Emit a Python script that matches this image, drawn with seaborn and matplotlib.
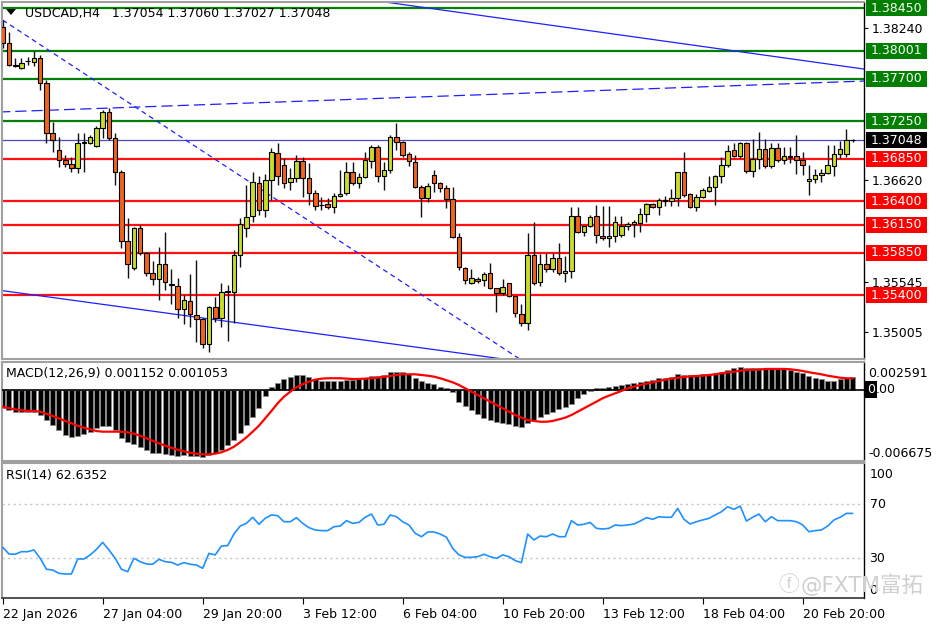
import numpy as np
import seaborn as sns
import matplotlib.pyplot as plt
import matplotlib.transforms as mtransforms
from matplotlib.patches import Rectangle, Polygon

# USDCAD H4 candles (bars 0..136)
opens = [1.38251, 1.38081, 1.37847, 1.37815, 1.37890, 1.37879, 1.37922, 1.37656, 1.37125, 1.36944,
         1.36838, 1.36795, 1.36753, 1.37018, 1.37018, 1.36986, 1.37178, 1.37348, 1.37071, 1.36710,
         1.35977, 1.35690, 1.36115, 1.35849, 1.35637, 1.35573, 1.35733, 1.35520, 1.35499, 1.35254,
         1.35339, 1.35191, 1.35148, 1.34882, 1.35276, 1.35159, 1.35435, 1.35435, 1.35828, 1.36115,
         1.36243, 1.36593, 1.36306, 1.36625, 1.36912, 1.36785, 1.36604, 1.36646, 1.36827, 1.36646,
         1.36487, 1.36360, 1.36370, 1.36338, 1.36455, 1.36487, 1.36710, 1.36593, 1.36657, 1.36827,
         1.36976, 1.36668, 1.36731, 1.37082, 1.37029, 1.36901, 1.36816, 1.36551, 1.36434, 1.36678,
         1.36593, 1.36540, 1.36423, 1.36019, 1.35690, 1.35531, 1.35573, 1.35562, 1.35637, 1.35477,
         1.35424, 1.35531, 1.35392, 1.35201, 1.35106, 1.35828, 1.35541, 1.35733, 1.35679, 1.35796,
         1.35637, 1.35658, 1.36243, 1.36073, 1.36136, 1.36243, 1.36030, 1.36009, 1.36030, 1.36041,
         1.36136, 1.36158, 1.36168, 1.36264, 1.36370, 1.36338, 1.36405, 1.36402, 1.36434, 1.36710,
         1.36476, 1.36338, 1.36444, 1.36508, 1.36551, 1.36668, 1.36785, 1.36944, 1.36880, 1.37018,
         1.36721, 1.36848, 1.36955, 1.36774, 1.36965, 1.36838, 1.36880, 1.36880, 1.36838, 1.36615,
         1.36636, 1.36678, 1.36700, 1.36774, 1.36901, 1.36901, 1.37054]
highs = [1.38325, 1.38198, 1.37922, 1.37922, 1.37932, 1.37996, 1.37954, 1.37688, 1.37242, 1.37082,
         1.36891, 1.36870, 1.37125, 1.37125, 1.37103, 1.37199, 1.37369, 1.37390, 1.37125, 1.36731,
         1.36221, 1.36126, 1.36147, 1.35860, 1.35764, 1.35913, 1.36073, 1.35679, 1.35584, 1.35403,
         1.35626, 1.35775, 1.35159, 1.35286, 1.35382, 1.35531, 1.35509, 1.35881, 1.36221, 1.36572,
         1.36710, 1.36668, 1.36689, 1.36965, 1.37018, 1.36859, 1.36753, 1.36891, 1.36870, 1.36806,
         1.36519, 1.36444, 1.36434, 1.36487, 1.36731, 1.36816, 1.36816, 1.36700, 1.36923, 1.36997,
         1.36997, 1.36816, 1.37103, 1.37231, 1.37035, 1.36923, 1.36891, 1.36572, 1.36593, 1.36731,
         1.36604, 1.36572, 1.36551, 1.36062, 1.35701, 1.35679, 1.35594, 1.35648, 1.35743, 1.35480,
         1.35573, 1.35535, 1.35395, 1.35307, 1.36062, 1.36179, 1.35839, 1.35849, 1.35849, 1.35956,
         1.35818, 1.36338, 1.36338, 1.36140, 1.36253, 1.36360, 1.36349, 1.36349, 1.36243, 1.36243,
         1.36179, 1.36200, 1.36328, 1.36381, 1.36381, 1.36434, 1.36455, 1.36530, 1.36715, 1.36923,
         1.36487, 1.36476, 1.36540, 1.36668, 1.36678, 1.36870, 1.36997, 1.37018, 1.37029, 1.37029,
         1.37061, 1.37135, 1.37061, 1.37018, 1.37018, 1.36976, 1.36976, 1.37103, 1.36923, 1.36785,
         1.36742, 1.36742, 1.36997, 1.36997, 1.37040, 1.37167, 1.37060]
lows = [1.38028, 1.37837, 1.37826, 1.37805, 1.37847, 1.37837, 1.37582, 1.37018, 1.36923, 1.36763,
        1.36763, 1.36710, 1.36700, 1.36710, 1.37008, 1.36976, 1.37071, 1.37050, 1.36572, 1.35903,
        1.35584, 1.35669, 1.35828, 1.35605, 1.35509, 1.35350, 1.35456, 1.35307, 1.35159, 1.35095,
        1.35063, 1.34904, 1.34840, 1.34797, 1.35116, 1.35063, 1.34914, 1.35106, 1.35701, 1.36019,
        1.36179, 1.36253, 1.36232, 1.36413, 1.36572, 1.36540, 1.36519, 1.36604, 1.36444, 1.36360,
        1.36306, 1.36306, 1.36317, 1.36274, 1.36444, 1.36466, 1.36572, 1.36540, 1.36646, 1.36753,
        1.36604, 1.36519, 1.36700, 1.36944, 1.36870, 1.36774, 1.36540, 1.36232, 1.36391, 1.36498,
        1.36498, 1.36328, 1.36009, 1.35669, 1.35520, 1.35520, 1.35531, 1.35499, 1.35467, 1.35222,
        1.35403, 1.35382, 1.35169, 1.35074, 1.35031, 1.35509, 1.35499, 1.35648, 1.35648, 1.35616,
        1.35541, 1.35584, 1.36062, 1.36030, 1.36126, 1.35956, 1.35988, 1.35913, 1.35966, 1.36019,
        1.36094, 1.36019, 1.36073, 1.36179, 1.36328, 1.36253, 1.36349, 1.36349, 1.36349, 1.36444,
        1.36328, 1.36296, 1.36434, 1.36498, 1.36360, 1.36593, 1.36763, 1.36870, 1.36859, 1.36700,
        1.36657, 1.36742, 1.36753, 1.36753, 1.36816, 1.36795, 1.36806, 1.36689, 1.36678, 1.36466,
        1.36593, 1.36604, 1.36689, 1.36668, 1.36859, 1.36870, 1.37027]
closes = [1.38081, 1.37847, 1.37837, 1.37868, 1.37885, 1.37922, 1.37656, 1.37125, 1.37050, 1.36838,
          1.36795, 1.36753, 1.37018, 1.37029, 1.37082, 1.37178, 1.37348, 1.37071, 1.36710, 1.35977,
          1.35733, 1.36115, 1.35849, 1.35637, 1.35573, 1.35733, 1.35541, 1.35509, 1.35254, 1.35350,
          1.35201, 1.35148, 1.34882, 1.35276, 1.35159, 1.35435, 1.35446, 1.35828, 1.36158, 1.36232,
          1.36604, 1.36306, 1.36625, 1.36923, 1.36668, 1.36593, 1.36646, 1.36827, 1.36646, 1.36487,
          1.36349, 1.36355, 1.36338, 1.36455, 1.36476, 1.36710, 1.36593, 1.36657, 1.36838, 1.36976,
          1.36668, 1.36731, 1.37082, 1.37029, 1.36891, 1.36827, 1.36551, 1.36434, 1.36561, 1.36593,
          1.36540, 1.36423, 1.36019, 1.35701, 1.35562, 1.35584, 1.35552, 1.35626, 1.35477, 1.35424,
          1.35488, 1.35392, 1.35212, 1.35106, 1.35828, 1.35531, 1.35733, 1.35679, 1.35796, 1.35637,
          1.35658, 1.36243, 1.36073, 1.36136, 1.36232, 1.36041, 1.36009, 1.36030, 1.36179, 1.36136,
          1.36158, 1.36179, 1.36264, 1.36370, 1.36338, 1.36413, 1.36413, 1.36434, 1.36710, 1.36466,
          1.36338, 1.36444, 1.36519, 1.36551, 1.36668, 1.36785, 1.36933, 1.36880, 1.37018, 1.36721,
          1.36848, 1.36955, 1.36774, 1.36965, 1.36838, 1.36880, 1.36875, 1.36838, 1.36785, 1.36636,
          1.36678, 1.36700, 1.36785, 1.36901, 1.36955, 1.37054, 1.37048]

macd_hist = [-0.00174, -0.00190, -0.00206, -0.00212, -0.00212, -0.00212, -0.00237, -0.00284, -0.00330, -0.00377,
             -0.00424, -0.00440, -0.00433, -0.00417, -0.00399, -0.00361, -0.00340, -0.00340, -0.00377, -0.00449,
             -0.00492, -0.00511, -0.00534, -0.00564, -0.00590, -0.00595, -0.00605, -0.00611, -0.00618, -0.00611,
             -0.00618, -0.00618, -0.00627, -0.00611, -0.00590, -0.00564, -0.00518, -0.00471, -0.00408, -0.00330,
             -0.00253, -0.00174, -0.00056, 0.00022, 0.00060, 0.00100, 0.00122, 0.00138, 0.00138, 0.00122,
             0.00100, 0.00081, 0.00081, 0.00081, 0.00081, 0.00091, 0.00091, 0.00100, 0.00107, 0.00131,
             0.00131, 0.00138, 0.00163, 0.00168, 0.00163, 0.00144, 0.00107, 0.00081, 0.00060, 0.00051,
             0.00028, 0.00013, -0.00019, -0.00115, -0.00150, -0.00190, -0.00230, -0.00262, -0.00284, -0.00300,
             -0.00314, -0.00324, -0.00337, -0.00346, -0.00314, -0.00284, -0.00253, -0.00230, -0.00206, -0.00183,
             -0.00159, -0.00137, -0.00080, -0.00043, -0.00012, 0.00013, 0.00016, 0.00022, 0.00035, 0.00044,
             0.00051, 0.00060, 0.00069, 0.00081, 0.00091, 0.00107, 0.00112, 0.00118, 0.00147, 0.00138,
             0.00138, 0.00138, 0.00144, 0.00147, 0.00154, 0.00168, 0.00184, 0.00200, 0.00215, 0.00206,
             0.00200, 0.00200, 0.00200, 0.00200, 0.00200, 0.00194, 0.00184, 0.00168, 0.00154, 0.00131,
             0.00112, 0.00100, 0.00081, 0.00081, 0.00100, 0.00107, 0.001152]
macd_signal = [-0.00159, -0.00174, -0.00183, -0.00193, -0.00199, -0.00199, -0.00206, -0.00225, -0.00246, -0.00268,
               -0.00293, -0.00314, -0.00337, -0.00356, -0.00371, -0.00387, -0.00393, -0.00393, -0.00393, -0.00393,
               -0.00399, -0.00412, -0.00431, -0.00455, -0.00480, -0.00502, -0.00524, -0.00543, -0.00562, -0.00577,
               -0.00590, -0.00599, -0.00605, -0.00605, -0.00599, -0.00586, -0.00564, -0.00534, -0.00492, -0.00446,
               -0.00393, -0.00337, -0.00268, -0.00199, -0.00127, -0.00066, -0.00019, 0.00022, 0.00051, 0.00075,
               0.00094, 0.00103, 0.00107, 0.00107, 0.00107, 0.00103, 0.00100, 0.00100, 0.00103, 0.00107,
               0.00112, 0.00119, 0.00128, 0.00138, 0.00144, 0.00144, 0.00144, 0.00138, 0.00131, 0.00122,
               0.00107, 0.00088, 0.00069, 0.00044, 0.00013, -0.00019, -0.00050, -0.00080, -0.00112, -0.00143,
               -0.00174, -0.00206, -0.00237, -0.00262, -0.00284, -0.00293, -0.00300, -0.00300, -0.00293, -0.00277,
               -0.00262, -0.00237, -0.00206, -0.00174, -0.00143, -0.00112, -0.00080, -0.00056, -0.00034, -0.00012,
               0.00013, 0.00028, 0.00044, 0.00056, 0.00069, 0.00081, 0.00094, 0.00103, 0.00112, 0.00119,
               0.00125, 0.00128, 0.00131, 0.00138, 0.00144, 0.00154, 0.00163, 0.00168, 0.00178, 0.00184,
               0.00187, 0.00187, 0.00194, 0.00194, 0.00194, 0.00194, 0.00191, 0.00184, 0.00175, 0.00163,
               0.00154, 0.00144, 0.00131, 0.00122, 0.00112, 0.00107, 0.001053]
rsi = [37.6, 32.6, 32.4, 34.3, 34.3, 35.6, 29.4, 21.3, 20.7, 18.3,
       17.8, 17.8, 28.9, 28.9, 31.9, 36.0, 41.2, 35.6, 29.4, 21.3,
       19.5, 29.4, 26.9, 25.2, 25.0, 28.7, 26.9, 26.4, 24.4, 26.2,
       25.0, 24.4, 22.0, 33.1, 31.9, 38.5, 38.8, 47.4, 53.3, 55.3,
       59.8, 54.6, 59.0, 61.5, 61.0, 56.5, 56.5, 59.5, 55.3, 52.1,
       50.4, 49.9, 49.9, 52.8, 53.3, 57.3, 55.3, 56.0, 59.8, 62.2,
       54.1, 54.6, 61.5, 60.2, 56.5, 54.1, 47.9, 45.4, 48.9, 48.9,
       47.4, 45.0, 36.8, 31.9, 30.1, 30.1, 30.6, 32.4, 30.6, 29.4,
       31.9, 30.6, 27.7, 26.2, 47.4, 43.0, 45.9, 45.4, 47.4, 45.4,
       45.4, 57.3, 54.1, 54.6, 56.0, 51.6, 51.1, 51.6, 54.1, 53.6,
       54.1, 54.8, 57.0, 59.5, 58.3, 60.2, 59.8, 59.8, 66.4, 58.3,
       54.8, 56.5, 57.8, 59.0, 61.5, 63.9, 67.6, 65.7, 68.1, 57.0,
       59.8, 62.2, 56.5, 60.2, 57.3, 57.3, 57.3, 56.5, 54.1, 49.1,
       49.9, 50.4, 53.3, 57.8, 59.8, 62.7, 62.6352]

date_ticks = [0, 16, 32, 48, 64, 80, 96, 112, 128]
date_labels = ['22 Jan 2026', '27 Jan 04:00', '29 Jan 20:00', '3 Feb 12:00', '6 Feb 04:00',
               '10 Feb 20:00', '13 Feb 12:00', '18 Feb 04:00', '20 Feb 20:00']

green_levels = [1.38450, 1.38001, 1.37700, 1.37250]
red_levels = [1.36850, 1.36400, 1.36150, 1.35850, 1.35400]
last_price = 1.37048
price_ticks = [1.38240, 1.36620, 1.35545, 1.35005]

# trend lines: (bar, price) end points
trend_solid_top = [(55, 1.38574), (140, 1.37784)]
trend_solid_low = [(-1, 1.35458), (85, 1.34678)]
trend_dash_mid = [(-1, 1.37347), (140, 1.37682)]
trend_dash_steep = [(0, 1.38325), (86, 1.34580)]

BULL = '#c8dc2a'
BEAR = '#f0641e'

sns.set_theme(style='white')
plt.rcParams['font.family'] = ['DejaVu Sans', 'Noto Sans CJK SC']
plt.rcParams['font.size'] = 9

W, H = 936, 624
fig = plt.figure(figsize=(W / 100, H / 100), dpi=100)
fig.patch.set_facecolor('white')


def px_box(x0, y0, x1, y1):
    return [x0 / W, 1 - y1 / H, (x1 - x0) / W, (y1 - y0) / H]


ax = fig.add_axes(px_box(2, 2, 864, 359))
ax_macd = fig.add_axes(px_box(2, 362, 864, 461))
ax_rsi = fig.add_axes(px_box(2, 463, 864, 598))
xlim = (-0.11, 137.81)

# ---- price panel ----
x = np.arange(len(opens))
o, h, l, c = (np.array(v) for v in (opens, highs, lows, closes))
up = c >= o
for lv in green_levels:
    ax.axhline(lv, color='#007f00', lw=1.6, zorder=1)
for lv in red_levels:
    ax.axhline(lv, color='#ff1010', lw=1.6, zorder=1)
ax.axhline(last_price, color='#4a4ac0', lw=0.9, zorder=1)

for pts, ls in [(trend_solid_top, '-'), (trend_solid_low, '-'),
                (trend_dash_mid, (0, (9, 4))), (trend_dash_steep, (0, (4, 3)))]:
    (xa, ya), (xb, yb) = pts
    ax.plot([xa, xb], [ya, yb], color='#1f1fff', lw=0.9, ls=ls, zorder=1.5)

ax.vlines(x, l, h, color='#111111', lw=1, zorder=2)
ax.bar(x, np.abs(c - o), bottom=np.minimum(o, c), width=0.74,
       color=np.where(up, BULL, BEAR), edgecolor='black', linewidth=0.8, zorder=3)

ax.set_xlim(*xlim)
ax.set_ylim(1.34723, 1.38517)
ax.yaxis.tick_right()
ax.set_yticks(price_ticks)
ax.set_yticklabels([f'{v:.5f}' for v in price_ticks])
ax.tick_params(axis='y', length=3, width=0.8, pad=2.7, labelsize=9, colors='black', direction='out', right=True)
ax.tick_params(axis='x', bottom=False, labelbottom=False)

ytr = ax.get_yaxis_transform()
box_h = 0.0017
for lv, col in ([(v, '#007f00') for v in green_levels] + [(v, '#ff0000') for v in red_levels]
                + [(last_price, 'black')]):
    ax.add_patch(Rectangle((1.0023, lv - box_h / 2), 61 / 862, box_h, transform=ytr,
                           facecolor=col, edgecolor='none', clip_on=False, zorder=5))
    ax.text(1.0377, lv, f'{lv:.5f}', transform=ytr, ha='center', va='center',
            color='white', fontsize=9, clip_on=False, zorder=6)

# ---- MACD panel ----
sns.barplot(x=x, y=macd_hist, native_scale=True, ax=ax_macd, color='black', saturation=1,
            width=0.8, edgecolor='#8c8c8c', linewidth=0.6, errorbar=None, zorder=2)
ax_macd.axhline(0, color='black', lw=1.2, zorder=3)
sns.lineplot(x=x, y=macd_signal, ax=ax_macd, color='#ff0000', lw=1.6, zorder=4)
ax_macd.set_xlim(*xlim)
ax_macd.set_ylim(-0.006675, 0.002591)
ax_macd.yaxis.tick_right()
ax_macd.set_yticks([0.002591, 0.0, -0.006675])
ax_macd.set_yticklabels(['0.002591', '', '-0.006675'])
ax_macd.tick_params(axis='y', length=0, pad=3, labelsize=9, colors='black')
ax_macd.tick_params(axis='x', bottom=False, labelbottom=False)
mtr = ax_macd.get_yaxis_transform()
ax_macd.text(1.0035, 0, '0', transform=mtr, ha='left', va='center', color='white', fontsize=9,
             bbox=dict(boxstyle='square,pad=0.15', fc='black', ec='none'), clip_on=False)
ax_macd.text(1.0132, 0, '.00', transform=mtr, ha='left', va='center', color='black', fontsize=9,
             clip_on=False)
ax_macd.set_xlabel('')
ax_macd.set_ylabel('')

# ---- RSI panel ----
ax_rsi.axhline(70, color='#c4c4c4', lw=1, ls=(0, (1.5, 2.5)))
ax_rsi.axhline(30, color='#c4c4c4', lw=1, ls=(0, (1.5, 2.5)))
sns.lineplot(x=x, y=rsi, ax=ax_rsi, color='#1e90ff', lw=1.2, zorder=3)
ax_rsi.set_xlim(*xlim)
ax_rsi.set_ylim(0, 100)
ax_rsi.yaxis.tick_right()
ax_rsi.set_yticks([100, 70, 30, 0])
ax_rsi.set_yticklabels(['100', '70', '30', '0'])
ax_rsi.tick_params(axis='y', length=0, pad=4, labelsize=9, colors='black')
ax_rsi.set_xticks(date_ticks)
ax_rsi.set_xticklabels(date_labels, ha='left')
ax_rsi.tick_params(axis='x', length=4, width=0.8, pad=3, labelsize=9, colors='black',
                   direction='out', bottom=True)
ax_rsi.set_xlabel('')
ax_rsi.set_ylabel('')

for a in (ax, ax_macd, ax_rsi):
    a.grid(False)
    a.set_facecolor('white')
    for side in ('left', 'top', 'bottom'):
        a.spines[side].set_color('#a0a0a0')
        a.spines[side].set_linewidth(1.5)
    a.spines['right'].set_color('black')
    a.spines['right'].set_linewidth(1)
ax_rsi.spines['bottom'].set_color('#333333')
ax_rsi.spines['bottom'].set_linewidth(1.2)

# edge labels sit inside the panel, a few pixels in from the border
shift_down = mtransforms.ScaledTranslation(0, -0.05, fig.dpi_scale_trans)
shift_up = mtransforms.ScaledTranslation(0, 0.01, fig.dpi_scale_trans)
for labs, top_i, bot_i in [(ax_macd.get_yticklabels(), 0, 2), (ax_rsi.get_yticklabels(), 0, 3)]:
    labs[top_i].set_va('top')
    labs[top_i].set_transform(labs[top_i].get_transform() + shift_down)
    labs[bot_i].set_va('bottom')
    labs[bot_i].set_transform(labs[bot_i].get_transform() + shift_up)

# ---- texts ----
fig.patches.append(Polygon([(6 / W, 1 - 9 / H), (16 / W, 1 - 9 / H), (11 / W, 1 - 15 / H)],
                           closed=True, transform=fig.transFigure, facecolor='black', edgecolor='none'))
fig.text(25 / W, 1 - 13 / H, 'USDCAD,H4   1.37054 1.37060 1.37027 1.37048',
         ha='left', va='center', fontsize=9, color='black')
fig.text(6 / W, 1 - 373 / H, 'MACD(12,26,9) 0.001152 0.001053',
         ha='left', va='center', fontsize=9, color='black')
fig.text(6 / W, 1 - 476 / H, 'RSI(14) 62.6352', ha='left', va='center', fontsize=9, color='black')
fig.text(778 / W, 1 - 585 / H, 'ⓕ', ha='left', va='center', fontsize=15, color='#cfcfcf', zorder=10)
fig.text(801 / W, 1 - 585 / H, '@FXTM富拓', ha='left', va='center', fontsize=15.5,
         color='#cfcfcf', zorder=10)

fig.savefig('out.png', dpi=100, facecolor='white')
